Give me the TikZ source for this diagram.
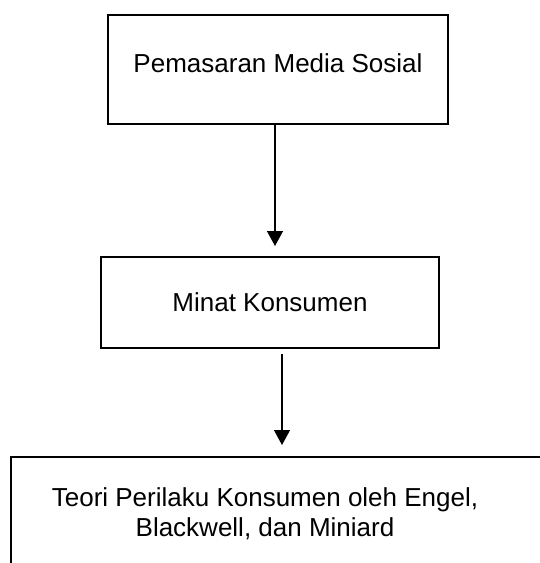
\documentclass[tikz,border=0pt]{standalone}
\usepackage{fontspec}
\setmainfont{Liberation Sans}
\usepackage{tikz}
\usetikzlibrary{arrows.meta}

\begin{document}
\begin{tikzpicture}[x=1pt, y=-1pt, >={Triangle[width=16pt,length=15pt]},
  every box/.style={draw, line width=2pt, font=\fontsize{26}{30}\selectfont},
  every label text/.style={font=\fontsize{26}{30}\selectfont, align=center},
  every link/.style={->, line width=1.3pt}]

\useasboundingbox (0,0) rectangle (540,563);
\clip (0,0) rectangle (540,563);

\node [every box/.try, minimum width=340pt, minimum height=109pt,
  text height=19pt, text depth=13pt] (pemasaran) at (278,69.5) {Pemasaran Media Sosial};

\node [every box/.try, minimum width=338pt, minimum height=91pt] (minat) at (270,302.5) {Minat Konsumen};

\node [every box/.try, minimum width=580pt, minimum height=160pt, anchor=north west] (teori) at (10,456) {};
\node [every label text/.try] (teori-text) at (265,514) {Teori Perilaku Konsumen oleh Engel,\\Blackwell, dan Miniard};

\draw [every link/.try, shorten >=10pt]
  ([xshift=-3pt]pemasaran.south) -- ([xshift=-3pt]pemasaran.south |- minat.north);

\draw [every link/.try, shorten <=5pt, shorten >=11pt]
  ([xshift=12pt]minat.south) -- ([xshift=12pt]minat.south |- teori.north);

\end{tikzpicture}
\end{document}
